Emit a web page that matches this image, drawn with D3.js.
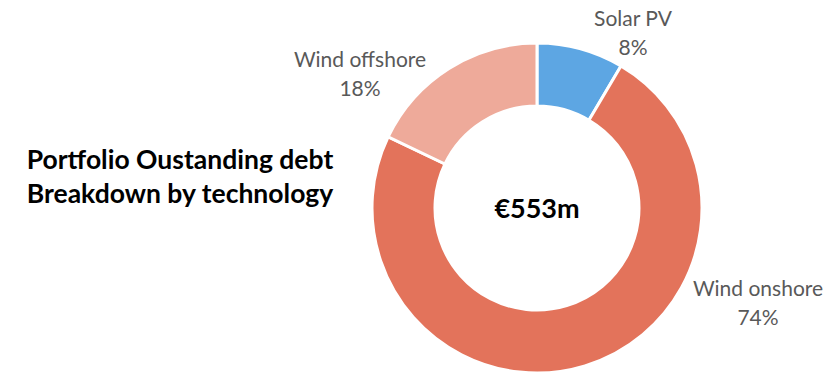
<!DOCTYPE html>
<html>
<head>
<meta charset="utf-8">
<script src="https://cdn.jsdelivr.net/npm/d3@7"></script>
<style>
  body { margin: 0; background: #fff; }
  svg { display: block; }
</style>
</head>
<body>
<div id="chart"></div>
<script>
// data (EUR m)
var technologies = ["Solar PV", "Wind onshore", "Wind offshore"];
var debtValues = [47, 407, 99];
var sliceColors = ["#5DA6E3", "#E3735B", "#EEAA9A"];
var totalLabel = "€553m";
var titleLines = ["Portfolio Oustanding debt", "Breakdown by technology"];

var width = 840, height = 372;
var cx = 537, cy = 208;
var outerR = 165, innerR = 102;

// where Excel dropped each data label (name line centre)
var labelPos = [[633, 19], [758, 289], [360, 60]];

var svg = d3.select("#chart")
  .append("svg")
  .attr("width", width)
  .attr("height", height);

var font = "Lato, 'Open Sans', sans-serif";

// ---------- donut ----------
var pie = d3.pie().sort(null).value(function(d) { return d; });
var arc = d3.arc().innerRadius(innerR).outerRadius(outerR);
var arcs = pie(debtValues);
var total = d3.sum(debtValues);

var g = svg.append("g")
  .attr("transform", "translate(" + cx + "," + cy + ")");

g.selectAll("path")
  .data(arcs)
  .enter()
  .append("path")
    .attr("d", arc)
    .attr("fill", function(d, i) { return sliceColors[i]; })
    .attr("stroke", "#fff")
    .attr("stroke-width", 3);

// centre total
g.append("text")
  .attr("text-anchor", "middle")
  .attr("y", 10)
  .attr("font-family", font)
  .attr("font-weight", "bold")
  .attr("font-size", "27px")
  .attr("fill", "#000")
  .text(totalLabel);

// ---------- data labels ----------
var labels = svg.selectAll(".lbl")
  .data(arcs)
  .enter()
  .append("text")
    .attr("class", "lbl")
    .attr("text-anchor", "middle")
    .attr("font-family", font)
    .attr("font-size", "21px")
    .attr("fill", "#595959");

labels.append("tspan")
  .attr("x", function(d, i) { return labelPos[i][0]; })
  .attr("y", function(d, i) { return labelPos[i][1] + 7; })
  .text(function(d, i) { return technologies[i]; });

labels.append("tspan")
  .attr("x", function(d, i) { return labelPos[i][0]; })
  .attr("dy", 29)
  .text(function(d) { return Math.round(d.value / total * 100) + "%"; });

// ---------- title ----------
svg.selectAll(".title")
  .data(titleLines)
  .enter()
  .append("text")
    .attr("class", "title")
    .attr("x", 180)
    .attr("y", function(d, i) { return 169 + i * 34; })
    .attr("text-anchor", "middle")
    .attr("font-family", font)
    .attr("font-weight", "bold")
    .attr("font-size", "26.5px")
    .attr("fill", "#000")
    .text(function(d) { return d; });
</script>
</body>
</html>
